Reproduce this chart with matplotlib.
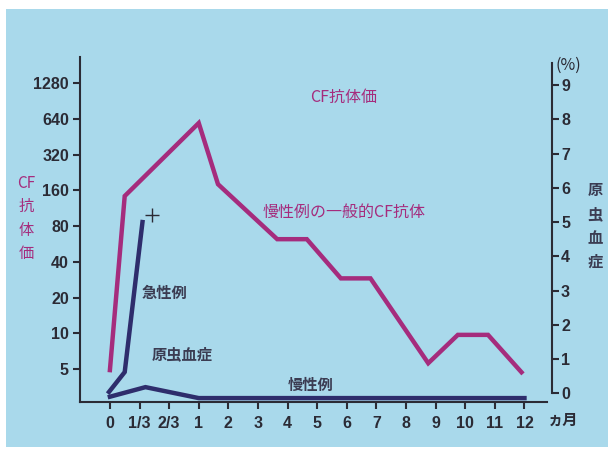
import numpy as np
import matplotlib.pyplot as plt
from matplotlib.patches import Rectangle

plt.rcParams['font.family'] = ['Noto Sans CJK JP', 'DejaVu Sans']

# x axis: 0, 1/3, 2/3 month then months 1..12, drawn evenly spaced
tick_labels = ['0', '1/3', '2/3'] + [str(m) for m in range(1, 13)]
cf_levels = [5, 10, 20, 40, 80, 160, 320, 640, 1280]
pct_levels = list(range(0, 10))

# 慢性例の一般的CF抗体 (left axis, log)
cf_x = [0, 0.5, 3, 3.65, 5.65, 6.65, 7.8, 8.8, 10.75, 11.75, 12.77, 13.9]
cf_y = [4.9, 143, 589, 180, 62, 62, 29, 29, 5.6, 9.7, 9.7, 4.7]

# 原虫血症 (%), right axis
acute_x = [-0.03, 0.5, 1.1]
acute_y = [0.04, 0.62, 5.0]
chronic_x = [0, 1.2, 3, 14.0]
chronic_y = [-0.1, 0.18, -0.14, -0.14]
death_x = [1.42]
death_y = [5.2]

W, H = 613, 451
pink = '#a52c7d'
navy = '#2e2d6c'
ink = '#2b2b35'
label_ink = '#3b3c52'
bg = '#a9d9eb'
num_font = ['Liberation Sans Narrow', 'Liberation Sans', 'DejaVu Sans']


def px(x, y):
    return x / W, 1 - y / H


fig = plt.figure(figsize=(W / 100, H / 100), dpi=100, facecolor='white')
fig.patches.append(Rectangle(px(6, 447), 602 / W, 438 / H, transform=fig.transFigure,
                             facecolor=bg, edgecolor='none', zorder=-10))

ax = fig.add_axes([80 / W, 1 - 402 / H, 472 / W, 345 / H])
ax.set_facecolor('none')
ax.set_yscale('log', base=2)
ax.set_ylim(2.64, 2119)
ax.set_xlim(-1.01, 14.93)
ax2 = ax.twinx()
ax2.set_ylim(-0.254, 9.82)

ax.plot(cf_x, cf_y, color=pink, lw=3.2, solid_joinstyle='miter', zorder=3)
ax2.plot(acute_x, acute_y, color=navy, lw=3.2, solid_joinstyle='miter', zorder=3)
ax2.plot(chronic_x, chronic_y, color=navy, lw=3.2, solid_joinstyle='miter', zorder=3)
ax2.plot(death_x, death_y, marker='+', ms=10, mew=1.0, color=ink, ls='none')

for a in (ax, ax2):
    for s in a.spines.values():
        s.set_linewidth(1.5)
        s.set_color(ink)
    a.spines['top'].set_visible(False)
ax.spines['right'].set_visible(False)
ax2.spines['left'].set_visible(False)
ax2.spines['bottom'].set_visible(False)
ax2.spines['right'].set_bounds(0, 9.64)
ax.spines['bottom'].set_bounds(-1.01, 14.75)

ax.set_yticks(cf_levels)
ax.set_yticklabels([str(v) for v in cf_levels])
ax.yaxis.set_minor_locator(plt.NullLocator())
ax.set_xticks(range(len(tick_labels)))
ax.set_xticklabels(tick_labels)
ax2.set_yticks(pct_levels)
ax2.set_yticklabels([str(v) for v in pct_levels])

ax.tick_params(axis='y', length=5, width=1.5, color=ink, pad=3, labelsize=11.5, labelcolor=ink)
ax.tick_params(axis='x', length=5, width=1.5, color=ink, pad=5, labelsize=11.5, labelcolor=ink)
ax2.tick_params(axis='y', length=5, width=1.5, color=ink, pad=1.5, labelsize=11.5, labelcolor=ink)
for lab in ax.get_xticklabels() + ax.get_yticklabels() + ax2.get_yticklabels():
    lab.set_family(num_font)
    lab.set_weight('bold')

# annotations
fig.text(*px(344, 97), 'CF抗体価', color=pink, fontsize=11.5, ha='center', va='center')
fig.text(*px(263, 212), '慢性例の一般的CF抗体', color=pink, fontsize=11.5, ha='left', va='center')
fig.text(*px(142, 293), '急性例', color=label_ink, fontsize=11, weight='bold', ha='left', va='center')
fig.text(*px(152, 354), '原虫血症', color=label_ink, fontsize=11, weight='bold', ha='left', va='center')
fig.text(*px(288, 385), '慢性例', color=label_ink, fontsize=11, weight='bold', ha='left', va='center')
fig.text(*px(568, 65), '(%)', color=ink, fontsize=11.5, ha='center', va='center')
fig.text(*px(548, 420), 'ヵ月', color=ink, fontsize=11, weight='bold', ha='left', va='center')

for i, ch in enumerate(['CF', '抗', '体', '価']):
    fig.text(*px(26, 183 + i * 23.5), ch, color=pink, fontsize=11, ha='center', va='center')
for i, ch in enumerate(['原', '虫', '血', '症']):
    fig.text(*px(595, 190 + i * 24), ch, color=label_ink, fontsize=11, weight='bold',
             ha='center', va='center')

fig.savefig('out.png', dpi=100, facecolor='white')
